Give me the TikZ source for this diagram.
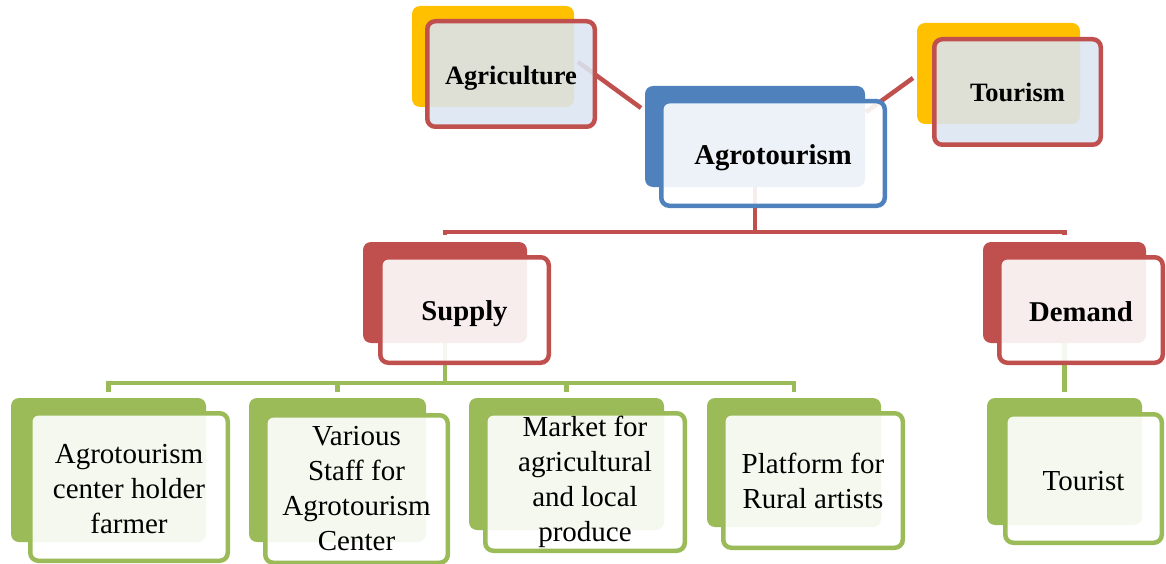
\documentclass[tikz,border=0pt]{standalone}
\usepackage{fontspec}
\setmainfont{Liberation Serif}
\usetikzlibrary{backgrounds,calc}
\definecolor{cY}{HTML}{FFC000}
\definecolor{cR}{HTML}{C0504D}
\definecolor{cB}{HTML}{4F81BD}
\definecolor{cG}{HTML}{9BBB59}
\definecolor{cLB}{HTML}{DBE5F1}
\newcommand{\lowr}[2][-4pt]{\raisebox{#1}[\height][\depth]{#2}}
\begin{document}
\begin{tikzpicture}[x=1pt,y=-1pt,
 bk/.style={rounded corners=8pt, inner sep=0pt, outer sep=0pt, draw=none},
 fr/.style={rounded corners=8pt, inner sep=0pt, line width=4.5pt, align=center, text=black, text opacity=1},
 frw/.style={fr, fill=white, fill opacity=0.9},
 frb/.style={fr, fill=cLB, fill opacity=0.89, draw=cR},
 redl/.style={draw=cR, line width=4.5pt},
 grnl/.style={draw=cG, line width=4.5pt},
 ttl/.style={font=\bfseries\fontsize{28.7}{34}\selectfont},
 ttls/.style={font=\bfseries\fontsize{26.5}{32}\selectfont},
 txt/.style={font=\fontsize{29}{35}\selectfont}]
\useasboundingbox (0,0) rectangle (1166,564);

% Agriculture
\node[bk, fill=cY, minimum width=162pt, minimum height=101pt] (agri-b) at (493,56.5) {};
\node[frb, minimum width=167.5pt, minimum height=105.5pt, ttls] (agri) at (511,74) {\lowr{Agriculture}};
% Tourism
\node[bk, fill=cY, minimum width=163pt, minimum height=101pt] (tour-b) at (998.5,73.5) {};
\node[frb, minimum width=166.5pt, minimum height=105.5pt, ttls] (tour) at (1017.5,92) {\lowr[0pt]{Tourism}};
% Agrotourism
\node[bk, fill=cB, minimum width=220pt, minimum height=101pt] (agro-b) at (755,136.5) {};
\node[frw, draw=cB, minimum width=223.5pt, minimum height=104.5pt, ttl] (agro) at (773,153.5) {\lowr{Agrotourism}};
% Supply
\node[bk, fill=cR, minimum width=164pt, minimum height=101pt] (sup-b) at (445,292.5) {};
\node[frw, draw=cR, minimum width=168.5pt, minimum height=105.5pt, ttl] (sup) at (464.5,310) {\lowr{Supply}};
% Demand
\node[bk, fill=cR, minimum width=163pt, minimum height=101pt] (dem-b) at (1064.5,292.5) {};
\node[frw, draw=cR, minimum width=163.5pt, minimum height=105.5pt, ttl] (dem) at (1081,310) {\lowr[-2pt]{Demand}};
% Tourist
\node[bk, fill=cG, minimum width=155pt, minimum height=127pt] (tst-b) at (1064.5,461.5) {};
\node[frw, draw=cG, minimum width=156.5pt, minimum height=128.5pt, txt] (tst) at (1083.5,478.5) {\lowr[-3pt]{Tourist}};
% Supply children
\node[bk, fill=cG, minimum width=195pt, minimum height=144pt] (b1-b) at (108.5,470) {};
\node[frw, draw=cG, minimum width=197.5pt, minimum height=147.5pt, txt] (b1) at (129,487) {\lowr[-2pt]{Agrotourism}\\\lowr[-2pt]{center holder}\\\lowr[-2pt]{farmer}};
\node[bk, fill=cG, minimum width=177pt, minimum height=144pt] (b2-b) at (337.5,470) {};
\node[frw, draw=cG, minimum width=182.5pt, minimum height=147.5pt, txt] (b2) at (356.5,489) {Various\\Staff for\\Agrotourism\\Center};
\node[bk, fill=cG, minimum width=195pt, minimum height=132pt] (b3-b) at (566.5,464) {};
\node[frw, draw=cG, minimum width=199.5pt, minimum height=137.5pt, txt] (b3) at (585,482) {Market for\\agricultural\\and local\\produce};
\node[bk, fill=cG, minimum width=174pt, minimum height=129pt] (b4-b) at (794,462.5) {};
\node[frw, draw=cG, minimum width=179.5pt, minimum height=134.5pt, txt] (b4) at (813,480.5) {Platform for\\Rural artists};

% connectors
\coordinate (la1) at (578,62);
\coordinate (la2) at (641,108);
\coordinate (lt1) at (866,112);
\coordinate (lt2) at (913,78);
\coordinate (h1) at (0,232);
\coordinate (h2) at (0,383);
\begin{scope}[on background layer]
\draw[redl] (la1) -- (la2);
\draw[redl] (lt1) -- (lt2);
\draw[redl] (agro-b.center) -- (agro-b.center |- h1);
\draw[redl] ($(sup-b.north)+(0,-7)$) |- (dem-b.center |- h1) -- ($(dem-b.north)+(0,-7)$);
\draw[grnl] (sup-b.center) -- (sup-b.center |- h2);
\draw[grnl] ($(b1-b.north)+(0,-6)$) |- (b4-b.center |- h2) -- ($(b4-b.north)+(0,-6)$);
\draw[grnl] (b2-b.center |- h2) -- ($(b2-b.north)+(0,-6)$);
\draw[grnl] (b3-b.center |- h2) -- ($(b3-b.north)+(0,-6)$);
\draw[grnl] (dem-b.center) -- ($(tst-b.north)+(0,-6)$);
\end{scope}
\end{tikzpicture}
\end{document}
